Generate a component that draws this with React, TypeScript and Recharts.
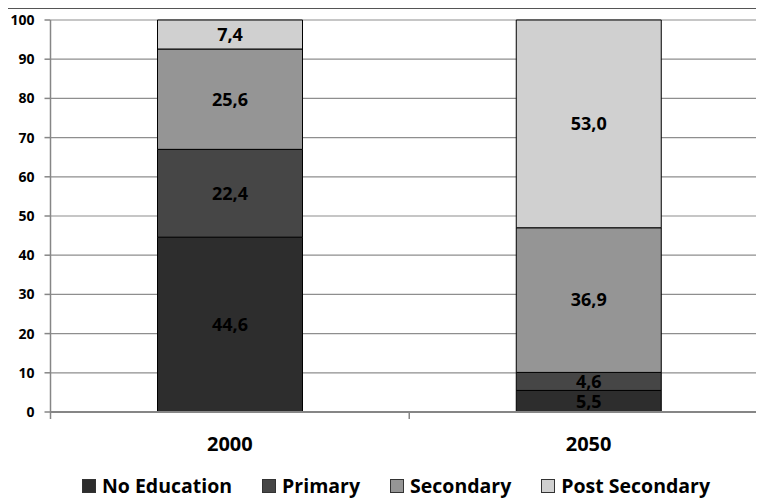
import React from "react";
import { BarChart, Bar, XAxis, YAxis, CartesianGrid, LabelList } from "recharts";

const years = ["2000", "2050"];
const noEducation = [44.6, 5.5];
const primary = [22.4, 4.6];
const secondary = [25.6, 36.9];
const postSecondary = [7.4, 53.0];
const yTicks = [0, 10, 20, 30, 40, 50, 60, 70, 80, 90, 100];

const series = [
  { key: "noEducation", name: "No Education", color: "#2d2d2d" },
  { key: "primary", name: "Primary", color: "#464646" },
  { key: "secondary", name: "Secondary", color: "#959595" },
  { key: "postSecondary", name: "Post Secondary", color: "#d0d0d0" },
];

const data = years.map((year, i) => ({
  year,
  noEducation: noEducation[i],
  primary: primary[i],
  secondary: secondary[i],
  postSecondary: postSecondary[i],
}));

const FONT = "'Open Sans', Lato, sans-serif";
const CHART_W = 780;
const CHART_H = 489;
const MARGIN = { top: 11, right: 19, bottom: 56, left: 0 };
const Y_W = 43.5;
const BAND = (CHART_W - MARGIN.left - MARGIN.right - Y_W) / years.length;

const fmt = (v: number) => v.toFixed(1).replace(".", ",");

// category label in the middle, tick mark on the left edge of each band
function YearTick(props: any) {
  const { x, y, payload } = props;
  return (
    <g>
      <line x1={x - BAND / 2} x2={x - BAND / 2} y1={y - 8} y2={y - 1} stroke="#868686" strokeWidth={1.5} />
      <text x={x} y={y + 31} textAnchor="middle" fontFamily={FONT} fontWeight={700} fontSize={20} fill="#000">
        {payload.value}
      </text>
    </g>
  );
}

function ValueTick(props: any) {
  const { x, y, payload } = props;
  return (
    <text x={x} y={y} dy={5} textAnchor="end" fontFamily={FONT} fontWeight={700} fontSize={14} fill="#000">
      {payload.value}
    </text>
  );
}

export default function App() {
  return (
    <div
      style={{
        position: "relative",
        marginLeft: -2,
        marginTop: -1,
        width: 757,
        height: 489,
        overflow: "hidden",
        borderLeft: "1px solid #111",
        borderTop: "2px solid #555",
        background: "#fff",
      }}
    >
      <BarChart width={CHART_W} height={CHART_H} data={data} margin={MARGIN}>
        <CartesianGrid vertical={false} stroke="#8e8e8e" strokeWidth={1.2} />
        <XAxis
          dataKey="year"
          height={30}
          axisLine={{ stroke: "#868686", strokeWidth: 2 }}
          tickLine={false}
          tick={<YearTick />}
          interval={0}
        />
        <YAxis
          width={Y_W}
          domain={[0, 100]}
          ticks={yTicks}
          interval={0}
          axisLine={{ stroke: "#868686", strokeWidth: 1.5 }}
          tickLine={{ stroke: "#868686", strokeWidth: 1.5 }}
          tickSize={6}
          tickMargin={10}
          tick={<ValueTick />}
        />
        {series.map((s) => (
          <Bar
            key={s.key}
            dataKey={s.key}
            name={s.name}
            stackId="a"
            fill={s.color}
            stroke="#000"
            strokeWidth={1}
            barSize={145}
            isAnimationActive={false}
          >
            <LabelList
              dataKey={s.key}
              position="center"
              formatter={(v: any) => fmt(Number(v))}
              style={{ fill: "#000", fontSize: 18, fontWeight: 700, fontFamily: FONT }}
            />
          </Bar>
        ))}
      </BarChart>
      <div
        style={{
          position: "absolute",
          left: 0,
          top: 467,
          width: 778,
          height: 20,
          lineHeight: "20px",
          display: "flex",
          justifyContent: "center",
          alignItems: "center",
          fontFamily: FONT,
          fontWeight: 700,
          fontSize: 19.5,
          color: "#000",
        }}
      >
        {series.map((s, i) => (
          <div key={s.key} style={{ display: "flex", alignItems: "center", marginLeft: i === 0 ? 0 : 30 }}>
            <span
              style={{
                display: "inline-block",
                width: 12,
                height: 12,
                background: s.color,
                border: "1px solid #333",
                marginRight: 6,
              }}
            />
            <span>{s.name}</span>
          </div>
        ))}
      </div>
    </div>
  );
}
